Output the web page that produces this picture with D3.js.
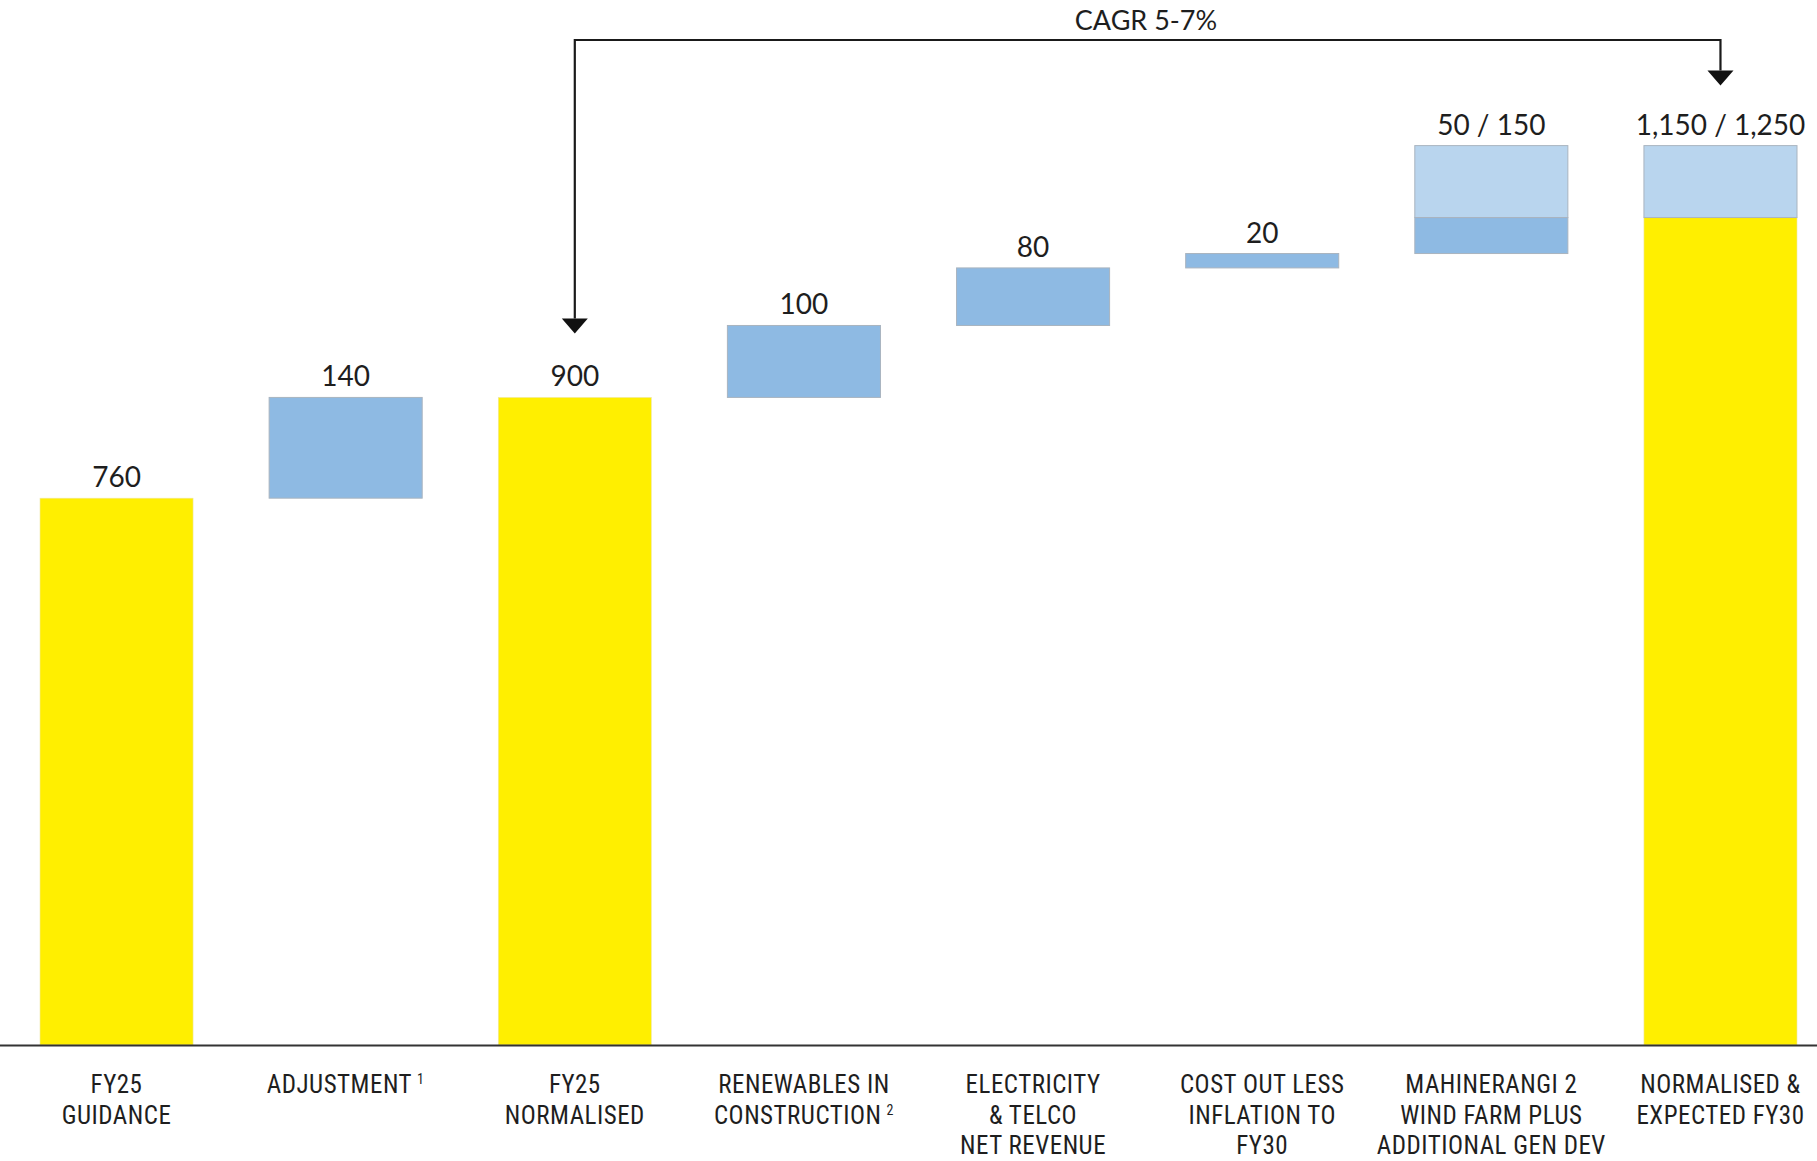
<!DOCTYPE html>
<html>
<head>
<meta charset="utf-8">
<script src="https://cdn.jsdelivr.net/npm/d3@7"></script>
<style>
  html, body { margin: 0; padding: 0; background: #ffffff; }
  svg { display: block; }
</style>
</head>
<body>
<svg id="chart" width="1817" height="1161"></svg>
<script>
// Waterfall: FY25 guidance to expected FY30, low / high case
const categories = ["g", "adj", "norm", "renew", "elec", "cost", "wind", "fy30"];
const categoryLines = [
  ["FY25", "GUIDANCE"],
  ["ADJUSTMENT"],
  ["FY25", "NORMALISED"],
  ["RENEWABLES IN", "CONSTRUCTION"],
  ["ELECTRICITY", "& TELCO", "NET REVENUE"],
  ["COST OUT LESS", "INFLATION TO", "FY30"],
  ["MAHINERANGI 2", "WIND FARM PLUS", "ADDITIONAL GEN DEV"],
  ["NORMALISED &", "EXPECTED FY30"]
];
const footnotes = ["", "1", "", "2", "", "", "", ""];
const barTypes = ["total", "step", "total", "step", "step", "step", "step", "total"];
const lowValues = [760, 140, 900, 100, 80, 20, 50, 1150];
const highValues = [760, 140, 900, 100, 80, 20, 150, 1250];
const valueLabels = ["760", "140", "900", "100", "80", "20", "50 / 150", "1,150 / 1,250"];
const cagrLabel = "CAGR 5-7%";

const colors = { total: "#ffef00", step: "#8ebae3", upside: "#b9d5ee" };

const svg = d3.select("#chart");
const W = 1817, H = 1161;

const x = d3.scaleBand()
  .domain(categories)
  .range([40, 1797])
  .paddingInner(0.332)
  .paddingOuter(0);

const y = d3.scaleLinear()
  .domain([0, 1250])
  .range([1045, 145.6]);

// Floating segments for each column
let running = 0;
const segments = [];
const tops = [];
categories.forEach((c, i) => {
  if (barTypes[i] === "total") {
    segments.push({ c, y0: 0, y1: lowValues[i], fill: colors.total, kind: "total" });
    if (highValues[i] > lowValues[i]) {
      segments.push({ c, y0: lowValues[i], y1: highValues[i], fill: colors.upside, kind: "upside" });
    }
    running = lowValues[i];
    tops.push(highValues[i]);
  } else {
    const base = running;
    segments.push({ c, y0: base, y1: base + lowValues[i], fill: colors.step, kind: "step" });
    if (highValues[i] > lowValues[i]) {
      segments.push({ c, y0: base + lowValues[i], y1: base + highValues[i], fill: colors.upside, kind: "upside" });
    }
    running = base + lowValues[i];
    tops.push(base + highValues[i]);
  }
});

svg.append("g")
  .selectAll("rect")
  .data(segments)
  .join("rect")
  .attr("x", d => x(d.c))
  .attr("width", x.bandwidth())
  .attr("y", d => y(d.y1))
  .attr("height", d => y(d.y0) - y(d.y1))
  .attr("fill", d => d.fill)
  .attr("stroke", d => d.kind === "total" ? "#efe7a8" : "#a9b4bf")
  .attr("stroke-width", d => d.kind === "total" ? 0.6 : 1);

// Baseline
svg.append("line")
  .attr("x1", 0).attr("x2", W)
  .attr("y1", y(0) + 0.5).attr("y2", y(0) + 0.5)
  .attr("stroke", "#333333")
  .attr("stroke-width", 2);

// Value labels above each column
svg.append("g")
  .selectAll("text")
  .data(categories)
  .join("text")
  .attr("x", d => x(d) + x.bandwidth() / 2)
  .attr("y", (d, i) => y(tops[i]) - 11)
  .attr("text-anchor", "middle")
  .attr("font-family", "Lato, 'Open Sans', sans-serif")
  .attr("font-size", 28)
  .attr("fill", "#1e1e1e")
  .text((d, i) => valueLabels[i]);

// Category labels via a bottom axis
const axis = d3.axisBottom(x).tickSize(0).tickFormat("");
const axisG = svg.append("g")
  .attr("transform", `translate(0,${y(0)})`)
  .call(axis);
axisG.select(".domain").remove();

axisG.selectAll(".tick").each(function (d) {
  const i = categories.indexOf(d);
  const t = d3.select(this).append("text")
    .attr("text-anchor", "middle")
    .attr("font-family", "'Liberation Sans Narrow', 'Arial Narrow', 'Roboto Condensed', sans-serif")
    .attr("font-size", 25)
    .attr("letter-spacing", 0.5)
    .attr("fill", "#1e1e1e");
  categoryLines[i].forEach((line, k) => {
    const isLast = k === categoryLines[i].length - 1;
    t.append("tspan")
      .attr("x", 0)
      .attr("y", 48 + k * 30.5)
      .text(line);
    if (isLast && footnotes[i]) {
      t.append("tspan")
        .attr("dx", 5)
        .attr("dy", -9)
        .attr("font-size", 14)
        .text(footnotes[i]);
    }
  });
});

// CAGR bracket from FY25 normalised to FY30
const xa = x("norm") + x.bandwidth() / 2;
const xb = x("fy30") + x.bandwidth() / 2;
const yTop = 40;
const tipA = y(highValues[2]) - 64;
const tipB = y(tops[7]) - 60;
const head = 15, halfW = 13;

svg.append("path")
  .attr("d", `M${xa},${tipA - head} V${yTop} H${xb} V${tipB - head}`)
  .attr("fill", "none")
  .attr("stroke", "#1a1a1a")
  .attr("stroke-width", 2.2);

svg.append("g")
  .selectAll("path")
  .data([[xa, tipA], [xb, tipB]])
  .join("path")
  .attr("d", d => `M${d[0] - halfW},${d[1] - head} L${d[0] + halfW},${d[1] - head} L${d[0]},${d[1]} Z`)
  .attr("fill", "#111111");

svg.append("text")
  .attr("x", 1146)
  .attr("y", 30)
  .attr("text-anchor", "middle")
  .attr("font-family", "Lato, 'Open Sans', sans-serif")
  .attr("font-size", 27)
  .attr("fill", "#1e1e1e")
  .text(cagrLabel);
</script>
</body>
</html>
